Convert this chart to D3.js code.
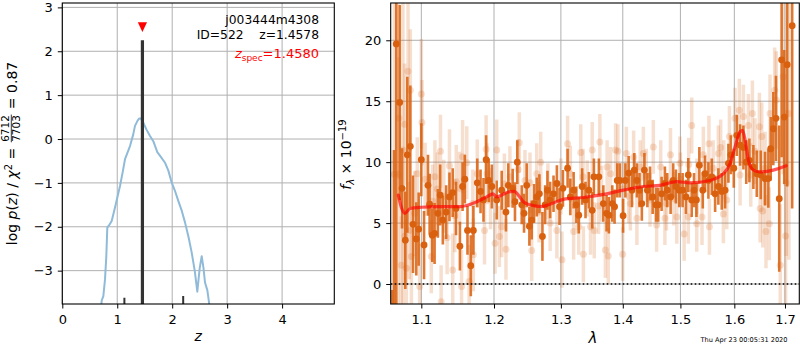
<!DOCTYPE html>
<html>
<head>
<meta charset="utf-8">
<script src="https://cdn.jsdelivr.net/npm/d3@7"></script>
<style>
  html, body { margin: 0; padding: 0; background: #fff; }
  svg { display: block; font-family: "DejaVu Sans", sans-serif; }
  text { white-space: pre; }
</style>
</head>
<body>
<script>
// ---------- p(z) panel ----------
const zTicks = [0, 1, 2, 3, 4];
const logpTicks = [-3, -2, -1, 0, 1, 2, 3];
const zGrid = [0.69, 0.717, 0.747, 0.777, 0.800, 0.819, 0.860, 0.899, 0.959, 1.05, 1.10, 1.141, 1.232, 1.29, 1.323, 1.370, 1.401, 1.430, 1.474, 1.530, 1.596, 1.656, 1.729, 1.800, 1.869, 1.930, 1.99, 2.05, 2.111, 2.17, 2.233, 2.30, 2.355, 2.41, 2.457, 2.50, 2.537, 2.570, 2.597, 2.64, 2.675, 2.72];
const logpZ = [-4.1, -3.68, -3.58, -3.2, -2.7, -2.02, -1.95, -1.87, -1.56, -1.07, -0.75, -0.46, -0.16, 0.10, 0.30, 0.42, 0.47, 0.47, 0.37, 0.22, 0.07, -0.05, -0.30, -0.42, -0.54, -0.72, -0.99, -1.18, -1.41, -1.62, -1.90, -2.25, -2.59, -3.0, -3.48, -2.95, -2.67, -2.95, -3.27, -3.45, -3.77, -4.1];
const peakZ = [1.13, 1.458, 2.20];
const peakLogp = [-3.62, 2.25, -3.58];
const peakWidth = [2, 3.2, 2];
const zSpec = 1.458;
const zSpecMarker = 2.55;
const labelLines = ["j003444m4308", "ID=522    z=1.4578"];
const zSpecText = "=1.4580";

// ---------- spectrum panel ----------
const lamTicks = [1.1, 1.2, 1.3, 1.4, 1.5, 1.6, 1.7];
const fluxTicks = [0, 5, 10, 15, 20];

// [wavelength (um), flux, error] for the primary (opaque) spectrum
const specMain = [
  [1.0625,-5.0,4.5],[1.0646,-2.5,13.5],[1.0675,19.7,22],[1.0719,14.9,8],[1.0749,7.85,3.3],
  [1.0791,3.6,4],[1.0817,10.6,6.4],[1.0856,11.3,5],[1.0891,4.9,4],[1.0934,3.7,3],
  [1.0965,4.5,3],[1.1000,10.2,3],[1.1036,3.2,2.8],[1.1088,8.1,2.5],[1.1110,6.55,2.5],
  [1.1145,4.0,2.2],[1.1176,4.15,2.5],[1.1220,5.8,2.0],[1.1251,7.3,2.5],[1.1287,5.25,2.0],
  [1.1332,5.9,2.2],[1.1377,7.15,2.0],[1.1421,7.5,2.0],[1.1466,6.2,2.2],[1.1520,3.1,2.0],
  [1.1557,8.0,2.0],[1.1588,8.6,2.0],[1.1625,4.4,2.0],[1.1671,1.5,2.5],[1.1707,4.4,2.0],
  [1.1762,8.3,2.0],[1.1808,7.6,1.8],[1.1850,6.9,1.8],[1.1887,10.2,2.0],[1.1924,8.5,1.8],
  [1.1969,8.0,1.8],[1.2039,6.9,1.6],[1.2111,7.7,1.6],[1.2173,5.9,1.6],[1.2207,8.1,1.8],
  [1.2271,7.85,1.6],[1.2305,6.75,1.6],[1.2339,10.0,1.8],[1.2405,6.5,1.6],[1.2439,5.8,1.6],
  [1.2479,8.1,1.8],[1.2519,4.75,1.6],[1.2554,5.25,1.6],[1.2589,6.6,1.6],[1.2630,7.15,1.6],
  [1.2670,7.4,1.6],[1.2716,3.9,2.0],[1.2757,6.5,1.6],[1.2793,7.7,1.6],[1.2834,6.9,1.5],
  [1.2886,7.4,1.5],[1.2938,8.25,1.5],[1.2979,6.35,1.5],[1.3032,7.85,1.5],[1.3105,9.5,1.6],
  [1.3148,7.15,1.5],[1.3200,7.7,1.5],[1.3243,6.5,1.5],[1.3281,5.65,1.5],[1.3335,8.0,1.5],
  [1.3389,6.9,1.5],[1.3443,7.7,1.5],[1.3497,6.05,1.5],[1.3524,8.8,1.5],[1.3605,8.8,1.5],
  [1.3678,6.6,1.5],[1.3731,5.8,1.5],[1.3769,5.65,1.5],[1.3825,6.6,1.5],[1.3863,6.35,1.4],
  [1.3907,8.5,1.4],[1.3950,8.5,1.4],[1.4005,5.6,1.4],[1.4044,8.5,1.4],[1.4099,9.1,1.4],
  [1.4155,7.7,1.4],[1.4194,9.35,1.4],[1.4239,8.5,1.4],[1.4283,7.7,1.4],[1.4323,6.6,1.4],
  [1.4367,9.35,1.4],[1.4418,7.7,1.4],[1.4464,8.25,1.4],[1.4510,7.15,1.4],[1.4567,6.5,1.4],
  [1.4607,6.5,1.4],[1.4666,7.4,1.4],[1.4724,8.25,1.4],[1.4765,7.7,1.4],[1.4825,7.15,1.4],
  [1.4871,8.5,1.4],[1.4919,8.0,1.4],[1.4979,7.7,1.4],[1.5040,7.7,1.4],[1.5100,7.15,1.4],
  [1.5142,8.95,1.4],[1.5204,6.9,1.4],[1.5246,7.7,1.4],[1.5290,6.9,1.4],[1.5344,9.75,1.5],
  [1.5407,7.7,1.5],[1.5449,9.05,1.5],[1.5511,8.5,1.5],[1.5574,8.8,1.5],[1.5636,7.4,1.5],
  [1.5697,8.0,1.5],[1.5761,7.6,1.5],[1.5824,7.7,1.5],[1.5887,9.9,1.6],[1.5933,10.6,1.6],
  [1.5990,9.5,1.6],[1.6047,12.2,1.7],[1.6111,11.4,1.7],[1.6175,11.2,1.8],[1.6230,10.0,1.8],
  [1.6291,10.15,1.8],[1.6369,9.6,1.8],[1.6436,9.05,1.9],[1.6514,8.95,2.0],[1.6599,8.65,2.2],
  [1.6665,8.65,2.4],[1.6712,11.1,2.6],[1.6764,12.75,3.0],[1.6818,13.6,3.5],[1.6884,7.0,6.0],
  [1.6932,18.4,8],[1.6985,13.7,5.5],[1.7045,18.0,10],[1.7147,21.2,15]
];

// [wavelength (um), flux, error] for the secondary (faint) spectrum
const specAlt = [
  [1.0650,9.0,14],[1.0700,9.0,14],[1.0710,13.6,5],[1.0739,1.55,4],[1.0760,11.0,13],
  [1.0782,13.1,5],[1.0787,3.95,4],[1.0804,1.3,4],[1.0826,17.45,7],[1.0843,4.4,4],
  [1.0856,15.9,5],[1.0870,2.25,4],[1.0913,5.8,3.5],[1.0947,9.05,3],[1.0978,-0.2,3.5],
  [1.1000,15.6,4.5],[1.1009,13.25,3.5],[1.1050,8.6,3],[1.1132,2.25,3],[1.1150,6.8,3],
  [1.1180,8.8,3],[1.1213,7.8,3],[1.1255,10.9,3],[1.1264,-1.45,3],[1.1300,7.2,3],
  [1.1345,3.8,3],[1.1377,9.7,3],[1.1421,1.15,3],[1.1450,5.6,3],[1.1470,8.4,3],
  [1.1516,7.85,3],[1.1543,-0.2,3],[1.1557,10.45,3],[1.1615,9.95,3],[1.1648,0.2,3],
  [1.1700,6.6,2.8],[1.1707,2.4,3],[1.1762,9.05,2.8],[1.1864,4.4,2.8],[1.1887,11.05,2.8],
  [1.1900,9.05,2.5],[1.1950,7.0,2.5],[1.2015,3.35,2.5],[1.2039,11.0,2.5],[1.2077,3.9,2.5],
  [1.2111,4.7,2.5],[1.2150,8.2,2.5],[1.2173,2.85,2.5],[1.2231,8.8,2.5],[1.2350,9.4,2.5],
  [1.2369,11.6,2.5],[1.2453,8.5,2.5],[1.2528,8.3,2.5],[1.2554,2.75,2.5],[1.2630,9.05,2.5],
  [1.2665,5.9,2.5],[1.2690,10.0,2.5],[1.2800,7.6,2.3],[1.2834,5.0,2.3],[1.2938,4.4,2.3],
  [1.3000,8.0,2.3],[1.3017,2.0,2.3],[1.3105,11.5,2.3],[1.3148,9.05,2.3],[1.3200,4.3,2.3],
  [1.3281,4.7,2.3],[1.3313,10.8,2.3],[1.3350,8.8,2.3],[1.3355,2.45,2.3],[1.3416,7.85,2.3],
  [1.3470,4.7,2.3],[1.3497,11.0,2.3],[1.3530,4.4,2.3],[1.3600,6.4,2.3],[1.3621,11.65,2.3],
  [1.3649,7.4,2.3],[1.3711,2.8,2.3],[1.3740,9.6,2.2],[1.3759,2.3,2.3],[1.3797,9.05,2.2],
  [1.3880,11.0,2.2],[1.3918,10.9,2.2],[1.3998,2.45,2.2],[1.4000,7.8,2.2],[1.4060,10.7,2.2],
  [1.4100,7.2,2.2],[1.4127,6.6,2.2],[1.4183,10.4,2.2],[1.4239,5.4,2.2],[1.4295,9.6,2.2],
  [1.4349,10.7,2.2],[1.4400,8.9,2.2],[1.4464,6.9,2.2],[1.4521,11.25,2.2],[1.4579,4.85,2.2],
  [1.4650,9.6,2.2],[1.4724,5.4,2.2],[1.4751,6.6,2.2],[1.4822,10.6,2.2],[1.4880,7.0,2.2],
  [1.4935,5.5,2.2],[1.4991,9.9,2.2],[1.5000,8.6,2.2],[1.5067,4.1,2.2],[1.5142,5.5,2.2],
  [1.5150,9.8,2.2],[1.5204,13.0,2.3],[1.5296,4.95,2.3],[1.5300,8.0,2.3],[1.5393,5.5,2.3],
  [1.5417,10.6,2.3],[1.5521,11.5,2.3],[1.5530,4.7,2.3],[1.5600,9.5,2.3],[1.5697,10.7,2.3],
  [1.5740,11.2,2.3],[1.5792,5.75,2.4],[1.5800,9.4,2.4],[1.5856,6.9,2.4],[1.5906,12.1,2.5],
  [1.6013,13.6,2.5],[1.6096,14.25,2.6],[1.6111,8.95,2.5],[1.6175,13.75,2.6],[1.6272,13.0,2.6],
  [1.6318,8.95,2.6],[1.6350,14.0,2.7],[1.6400,10.9,2.7],[1.6487,12.9,2.8],[1.6501,6.2,2.8],
  [1.6534,12.1,2.8],[1.6553,6.0,3],[1.6600,9.5,3],[1.6618,4.3,3],[1.6684,4.95,3],
  [1.6698,14.0,3.2],[1.6792,15.9,3.5],[1.6825,15.1,4],[1.6904,1.55,5],[1.6960,17.0,8],
  [1.7013,3.95,6],[1.7026,8.3,6],[1.7080,14.0,12]
];

// best-fit template
const modelWave = [1.0701, 1.0745, 1.0787, 1.0852, 1.1005, 1.1205, 1.1522, 1.1755, 1.1896, 1.1982, 1.2039, 1.2111, 1.2207, 1.2295, 1.2354, 1.2429, 1.2528, 1.2705, 1.2833, 1.3038, 1.3355, 1.3678, 1.4010, 1.4349, 1.4639, 1.4935, 1.5174, 1.5543, 1.5792, 1.5920, 1.6013, 1.6111, 1.6156, 1.6209, 1.6272, 1.6369, 1.6501, 1.6764, 1.7026];
const modelFlux = [7.3, 6.2, 5.8, 6.2, 6.3, 6.35, 6.35, 6.75, 7.15, 7.4, 7.15, 7.3, 7.55, 7.6, 7.3, 6.75, 6.5, 6.35, 6.55, 6.95, 7.1, 7.35, 7.7, 8.0, 8.1, 8.4, 8.3, 8.5, 9.05, 9.9, 11.25, 12.5, 12.6, 11.8, 10.15, 9.35, 9.2, 9.35, 9.7];

const stamp = "Thu Apr 23 00:05:31 2020";

// ---------- drawing ----------
const W = 800, H = 350;
const ORANGE = "#d9600e";
const GRID = "#b0b0b0";
const svg = d3.select("body").append("svg").attr("width", W).attr("height", H);

const pz = { left: 62.3, right: 334.3, top: 3, bottom: 304 };
const sp = { left: 390.7, right: 799.3, top: 3, bottom: 304 };

const xL = d3.scaleLinear().domain([0, 4.95]).range([pz.left, pz.right]);
const yL = d3.scaleLinear().domain([-3.76, 3.1]).range([pz.bottom, pz.top]);
const xR = d3.scaleLog().domain([1.0604, 1.7294]).range([sp.left, sp.right]);
const yR = d3.scaleLinear().domain([-1.64, 23.06]).range([sp.bottom, sp.top]);

const defs = svg.append("defs");
defs.append("clipPath").attr("id", "clipL").append("rect")
  .attr("x", pz.left).attr("y", pz.top).attr("width", pz.right - pz.left).attr("height", pz.bottom - pz.top);
defs.append("clipPath").attr("id", "clipR").append("rect")
  .attr("x", sp.left).attr("y", sp.top).attr("width", sp.right - sp.left).attr("height", sp.bottom - sp.top);

function grid(g, xs, ys, xv, yv, box) {
  g.selectAll(null).data(xv).join("line")
    .attr("x1", d => xs(d)).attr("x2", d => xs(d)).attr("y1", box.top).attr("y2", box.bottom)
    .attr("stroke", GRID).attr("stroke-width", 1);
  g.selectAll(null).data(yv).join("line")
    .attr("y1", d => ys(d)).attr("y2", d => ys(d)).attr("x1", box.left).attr("x2", box.right)
    .attr("stroke", GRID).attr("stroke-width", 1);
}

function axes(xs, ys, xv, yv, box, xfmt) {
  const gx = svg.append("g").attr("transform", `translate(0,${box.bottom})`)
    .call(d3.axisBottom(xs).tickValues(xv).tickSize(4.5).tickPadding(6).tickFormat(xfmt));
  const gy = svg.append("g").attr("transform", `translate(${box.left},0)`)
    .call(d3.axisLeft(ys).tickValues(yv).tickSize(4.5).tickPadding(5).tickFormat(d3.format("d")));
  [gx, gy].forEach(g => {
    g.select(".domain").remove();
    g.selectAll(".tick line").attr("stroke", "#000").attr("stroke-width", 1);
    g.selectAll(".tick text").attr("font-size", 13).attr("font-family", "DejaVu Sans").attr("fill", "#000");
  });
  svg.append("rect").attr("x", box.left).attr("y", box.top)
    .attr("width", box.right - box.left).attr("height", box.bottom - box.top)
    .attr("fill", "none").attr("stroke", "#000").attr("stroke-width", 1.1);
}

// ---- left panel ----
const gL = svg.append("g");
grid(gL, xL, yL, zTicks, logpTicks, pz);
const plotL = gL.append("g").attr("clip-path", "url(#clipL)");

plotL.append("path")
  .datum(zGrid.map((z, i) => [z, logpZ[i]]))
  .attr("d", d3.line().x(d => xL(d[0])).y(d => yL(d[1])))
  .attr("fill", "none").attr("stroke", "#8fbbd9").attr("stroke-width", 2).attr("stroke-linejoin", "round");

plotL.selectAll(null).data(peakZ).join("line")
  .attr("x1", d => xL(d)).attr("x2", d => xL(d))
  .attr("y1", yL(-3.76)).attr("y2", (d, i) => yL(peakLogp[i]))
  .attr("stroke", "#333").attr("stroke-width", (d, i) => peakWidth[i]);

svg.append("path")
  .attr("transform", `translate(${xL(zSpec)},${yL(zSpecMarker)})`)
  .attr("d", "M-4.6,-4.8L4.6,-4.8L0,4.8Z").attr("fill", "red");

axes(xL, yL, zTicks, logpTicks, pz, d3.format("d"));

svg.append("text").attr("x", 319).attr("y", 24).attr("text-anchor", "end")
  .attr("font-size", 12.3).text(labelLines[0]);
svg.append("text").attr("x", 319).attr("y", 39).attr("text-anchor", "end")
  .attr("font-size", 12.3).text(labelLines[1]);
const zs = svg.append("text").attr("x", 319).attr("y", 58.3).attr("text-anchor", "end")
  .attr("font-size", 13).attr("fill", "red");
zs.append("tspan").attr("font-style", "italic").text("z");
zs.append("tspan").attr("font-size", 9).attr("dy", 2.5).text("spec");
zs.append("tspan").attr("dy", -2.5).text(zSpecText);

svg.append("text").attr("x", xL.range()[0] + (xL.range()[1] - xL.range()[0]) / 2).attr("y", 341)
  .attr("text-anchor", "middle").attr("font-size", 14).attr("font-style", "italic").text("z");

// rotated y-label with a stacked fraction
{
  const g = svg.append("g").attr("transform", "translate(0,153.5) rotate(-90)");
  const base = 16.8;
  const t1 = g.append("text").attr("y", base).attr("font-size", 14);
  t1.append("tspan").text("log ");
  t1.append("tspan").attr("font-style", "italic").text("p");
  t1.append("tspan").text("(");
  t1.append("tspan").attr("font-style", "italic").text("z");
  t1.append("tspan").text(") / ");
  t1.append("tspan").attr("font-style", "italic").text("χ");
  t1.append("tspan").attr("font-size", 10).attr("dy", -5).text("2");
  t1.append("tspan").attr("dy", 5).text(" = ");
  const num = g.append("text").attr("y", 9.2).attr("font-size", 10.5).attr("text-anchor", "middle").text("6712");
  const den = g.append("text").attr("y", 20.3).attr("font-size", 10.5).attr("text-anchor", "middle").text("7703");
  const t3 = g.append("text").attr("y", base).attr("font-size", 14).text(" = 0.87");
  const w1 = t1.node().getComputedTextLength();
  const wf = Math.max(num.node().getComputedTextLength(), den.node().getComputedTextLength()) + 3;
  const w3 = t3.node().getComputedTextLength();
  const u0 = -(w1 + wf + w3) / 2;
  t1.attr("x", u0);
  num.attr("x", u0 + w1 + wf / 2);
  den.attr("x", u0 + w1 + wf / 2);
  g.append("line").attr("x1", u0 + w1 + 1).attr("x2", u0 + w1 + wf - 1)
    .attr("y1", 11.3).attr("y2", 11.3).attr("stroke", "#000").attr("stroke-width", 0.8);
  t3.attr("x", u0 + w1 + wf);
}

// ---- right panel ----
const gR = svg.append("g");
grid(gR, xR, yR, lamTicks, fluxTicks, sp);
const plotR = gR.append("g").attr("clip-path", "url(#clipR)");

// faint spectrum
plotR.append("g").selectAll("line").data(specAlt).join("line")
  .attr("x1", d => xR(d[0])).attr("x2", d => xR(d[0]))
  .attr("y1", d => yR(d[1] - d[2])).attr("y2", d => yR(d[1] + d[2]))
  .attr("stroke", ORANGE).attr("stroke-opacity", 0.2).attr("stroke-width", 3.5);
plotR.append("g").selectAll("circle").data(specAlt).join("circle")
  .attr("cx", d => xR(d[0])).attr("cy", d => yR(d[1])).attr("r", 3.5)
  .attr("fill", ORANGE).attr("fill-opacity", 0.2);

// primary spectrum
plotR.append("g").selectAll("line").data(specMain).join("line")
  .attr("x1", d => xR(d[0])).attr("x2", d => xR(d[0]))
  .attr("y1", d => yR(d[1] - d[2])).attr("y2", d => yR(d[1] + d[2]))
  .attr("stroke", ORANGE).attr("stroke-opacity", 0.85).attr("stroke-width", 2.6);
plotR.append("g").selectAll("circle").data(specMain).join("circle")
  .attr("cx", d => xR(d[0])).attr("cy", d => yR(d[1])).attr("r", 3.4)
  .attr("fill", ORANGE);

// zero level
plotR.append("line").attr("x1", sp.left).attr("x2", sp.right).attr("y1", yR(0)).attr("y2", yR(0))
  .attr("stroke", "#000").attr("stroke-width", 1.6).attr("stroke-dasharray", "1.6,2.4");

// model
plotR.append("path")
  .datum(modelWave.map((w, i) => [w, modelFlux[i]]))
  .attr("d", d3.line().x(d => xR(d[0])).y(d => yR(d[1])).curve(d3.curveMonotoneX))
  .attr("fill", "none").attr("stroke", "red").attr("stroke-opacity", 0.65)
  .attr("stroke-width", 3.2).attr("stroke-linejoin", "round").attr("stroke-linecap", "round");

axes(xR, yR, lamTicks, fluxTicks, sp, d3.format(".1f"));

svg.append("text").attr("x", (sp.left + sp.right) / 2 - 2).attr("y", 343)
  .attr("text-anchor", "middle").attr("font-size", 15).attr("font-style", "italic").text("λ");

{
  const g = svg.append("g").attr("transform", "translate(351,154.5) rotate(-90)");
  const t = g.append("text").attr("text-anchor", "middle").attr("font-size", 14);
  t.append("tspan").attr("font-style", "italic").text("f");
  t.append("tspan").attr("font-style", "italic").attr("font-size", 10).attr("dy", 3).text("λ");
  t.append("tspan").attr("dy", -3).text(" × 10");
  t.append("tspan").attr("font-size", 10).attr("dy", -5.5).text("−19");
}

svg.append("text").attr("x", 787.5).attr("y", 342).attr("text-anchor", "end")
  .attr("font-size", 6.6).text(stamp);
</script>
</body>
</html>
